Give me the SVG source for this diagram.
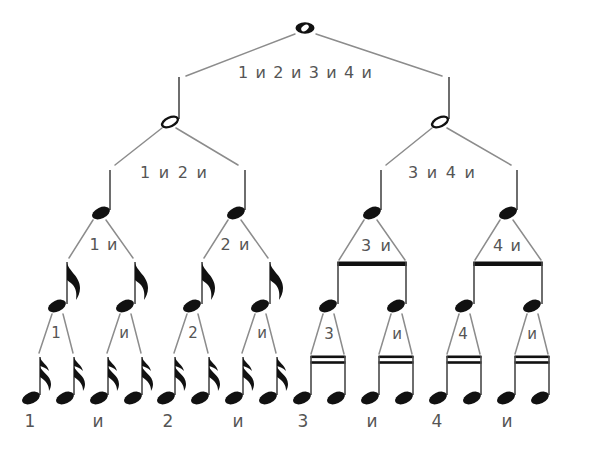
<svg xmlns="http://www.w3.org/2000/svg" xmlns:xlink="http://www.w3.org/1999/xlink" width="600" height="451" viewBox="0 0 600 451">
<style>
.ln{stroke:#8c8c8c;stroke-width:1.5;fill:none;stroke-linecap:round}
.st{stroke:#4a4a4a;stroke-width:1.6;fill:none}
.hd{fill:#111}
.bm{fill:#111}
.t{font-family:"DejaVu Sans","Liberation Sans",sans-serif;fill:#555;text-anchor:middle}
.t1{font-size:16px}
.t2{font-size:15px}
.t3{font-size:17px}
</style>
<defs>
<ellipse id="head" rx="9.5" ry="5.5" transform="rotate(-25)" class="hd"/>
<ellipse id="half" rx="8.5" ry="4.4" transform="rotate(-25)" fill="#fff" stroke="#111" stroke-width="2.4"/>
<path id="flag8" class="hd" d="M0,0 C1,9 13,14 13,26 C13,31 11,35 9,38 C10,31 9,26 5,22 C3,20 1,19 0,18 Z"/>
<g id="flag16" class="hd">
<path d="M0,0 C1,5 8,8 9,14 C6,11 3,10 0,9 Z"/>
<path d="M0,9 C1,15 11,18 11,27 C11,30 10,32 9,34 C9,28 6,24 0,20 Z"/>
</g>
</defs>
<rect width="600" height="451" fill="#fff"/>

<g id="connectors">
<line class="ln" x1="295" y1="34" x2="186" y2="76"/>
<line class="ln" x1="316" y1="34" x2="442" y2="76"/>
<line class="ln" x1="162" y1="128" x2="115" y2="165"/>
<line class="ln" x1="176" y1="128" x2="238" y2="165"/>
<line class="ln" x1="432" y1="128" x2="386" y2="165"/>
<line class="ln" x1="447" y1="128" x2="511" y2="165"/>
<line class="ln" x1="93" y1="220" x2="69" y2="258"/>
<line class="ln" x1="106" y1="220" x2="133" y2="258"/>
<line class="ln" x1="228" y1="220" x2="204" y2="258"/>
<line class="ln" x1="241" y1="220" x2="268" y2="258"/>
<line class="ln" x1="364" y1="220" x2="339" y2="260"/>
<line class="ln" x1="377" y1="220" x2="405" y2="260"/>
<line class="ln" x1="500" y1="220" x2="475" y2="260"/>
<line class="ln" x1="513" y1="220" x2="541" y2="260"/>
<line class="ln" x1="52" y1="314" x2="39" y2="353"/>
<line class="ln" x1="63" y1="314" x2="73" y2="353"/>
<line class="ln" x1="120" y1="314" x2="107" y2="353"/>
<line class="ln" x1="131" y1="314" x2="141" y2="353"/>
<line class="ln" x1="187" y1="314" x2="174" y2="353"/>
<line class="ln" x1="198" y1="314" x2="208" y2="353"/>
<line class="ln" x1="255" y1="314" x2="242" y2="353"/>
<line class="ln" x1="266" y1="314" x2="276" y2="353"/>
<line class="ln" x1="323" y1="314" x2="311" y2="354"/>
<line class="ln" x1="334" y1="314" x2="344" y2="354"/>
<line class="ln" x1="391" y1="314" x2="379" y2="354"/>
<line class="ln" x1="402" y1="314" x2="412" y2="354"/>
<line class="ln" x1="459" y1="314" x2="447" y2="354"/>
<line class="ln" x1="470" y1="314" x2="480" y2="354"/>
<line class="ln" x1="527" y1="314" x2="515" y2="354"/>
<line class="ln" x1="538" y1="314" x2="548" y2="354"/>
</g>

<g id="n-root">
<ellipse cx="305" cy="28" rx="9.5" ry="5.8" class="hd"/>
<ellipse cx="305" cy="28" rx="4.2" ry="2.6" transform="rotate(-35 305 28)" fill="#fff"/>
<text class="t t1" x="305" y="78" textLength="134" lengthAdjust="spacing">1 и 2 и 3 и 4 и</text>
</g>

<g id="n-h1">
<line class="st" x1="179" y1="77" x2="179" y2="119"/>
<use href="#half" x="170" y="122"/>
<text class="t t1" x="173.5" y="178" textLength="67" lengthAdjust="spacing">1 и 2 и</text>
</g>
<g id="n-h2">
<line class="st" x1="449" y1="77" x2="449" y2="119"/>
<use href="#half" x="440" y="122"/>
<text class="t t1" x="441.5" y="178" textLength="67" lengthAdjust="spacing">3 и 4 и</text>
</g>

<g id="n-q1">
<line class="st" x1="110" y1="170" x2="110" y2="210"/>
<use href="#head" x="101" y="213"/>
<text class="t t1" x="103.5" y="250" textLength="28" lengthAdjust="spacing">1 и</text>
</g>
<g id="n-q2">
<line class="st" x1="245" y1="170" x2="245" y2="210"/>
<use href="#head" x="236" y="213"/>
<text class="t t1" x="235" y="250" textLength="29" lengthAdjust="spacing">2 и</text>
</g>
<g id="n-q3">
<line class="st" x1="381" y1="170" x2="381" y2="210"/>
<use href="#head" x="372" y="213"/>
<text class="t t1" x="376" y="251" textLength="30" lengthAdjust="spacing">3 и</text>
</g>
<g id="n-q4">
<line class="st" x1="517" y1="170" x2="517" y2="210"/>
<use href="#head" x="508" y="213"/>
<text class="t t1" x="507" y="251" textLength="28" lengthAdjust="spacing">4 и</text>
</g>

<g id="n-e1">
<line class="st" x1="67" y1="262" x2="67" y2="304"/><use href="#flag8" x="67" y="262"/><use href="#head" x="57" y="306"/>
<text class="t t2" x="56" y="338">1</text>
</g>
<g id="n-e2">
<line class="st" x1="135" y1="262" x2="135" y2="304"/><use href="#flag8" x="135" y="262"/><use href="#head" x="125" y="306"/>
<text class="t t2" x="124" y="338">и</text>
</g>
<g id="n-e3">
<line class="st" x1="202" y1="262" x2="202" y2="304"/><use href="#flag8" x="202" y="262"/><use href="#head" x="192" y="306"/>
<text class="t t2" x="193" y="338">2</text>
</g>
<g id="n-e4">
<line class="st" x1="270" y1="262" x2="270" y2="304"/><use href="#flag8" x="270" y="262"/><use href="#head" x="260" y="306"/>
<text class="t t2" x="262" y="338">и</text>
</g>
<g id="n-e5-6">
<rect class="bm" x="337.2" y="261.5" width="69.6" height="4.5"/>
<line class="st" x1="338" y1="262" x2="338" y2="304"/><use href="#head" x="328" y="306"/>
<line class="st" x1="406" y1="262" x2="406" y2="304"/><use href="#head" x="396" y="306"/>
<text class="t t2" x="329" y="339">3</text>
<text class="t t2" x="397" y="339">и</text>
</g>
<g id="n-e7-8">
<rect class="bm" x="473.2" y="261.5" width="69.6" height="4.5"/>
<line class="st" x1="474" y1="262" x2="474" y2="304"/><use href="#head" x="464" y="306"/>
<line class="st" x1="542" y1="262" x2="542" y2="304"/><use href="#head" x="532" y="306"/>
<text class="t t2" x="463" y="339">4</text>
<text class="t t2" x="532" y="339">и</text>
</g>

<g id="n-s1-8">
<line class="st" x1="40" y1="357" x2="40" y2="395"/><use href="#flag16" x="40" y="357"/><use href="#head" x="31" y="398"/>
<line class="st" x1="74" y1="357" x2="74" y2="395"/><use href="#flag16" x="74" y="357"/><use href="#head" x="65" y="398"/>
<line class="st" x1="108" y1="357" x2="108" y2="395"/><use href="#flag16" x="108" y="357"/><use href="#head" x="99" y="398"/>
<line class="st" x1="142" y1="357" x2="142" y2="395"/><use href="#flag16" x="142" y="357"/><use href="#head" x="133" y="398"/>
<line class="st" x1="175" y1="357" x2="175" y2="395"/><use href="#flag16" x="175" y="357"/><use href="#head" x="166" y="398"/>
<line class="st" x1="209" y1="357" x2="209" y2="395"/><use href="#flag16" x="209" y="357"/><use href="#head" x="200" y="398"/>
<line class="st" x1="243" y1="357" x2="243" y2="395"/><use href="#flag16" x="243" y="357"/><use href="#head" x="234" y="398"/>
<line class="st" x1="277" y1="357" x2="277" y2="395"/><use href="#flag16" x="277" y="357"/><use href="#head" x="268" y="398"/>
</g>
<g id="n-s9-16">
<rect class="bm" x="310.5" y="355.5" width="35" height="2.6"/><rect class="bm" x="310.5" y="361.2" width="35" height="2.6"/>
<rect class="bm" x="378.5" y="355.5" width="35" height="2.6"/><rect class="bm" x="378.5" y="361.2" width="35" height="2.6"/>
<rect class="bm" x="446.5" y="355.5" width="35" height="2.6"/><rect class="bm" x="446.5" y="361.2" width="35" height="2.6"/>
<rect class="bm" x="514.5" y="355.5" width="35" height="2.6"/><rect class="bm" x="514.5" y="361.2" width="35" height="2.6"/>
<line class="st" x1="311" y1="356" x2="311" y2="395"/><use href="#head" x="302" y="398"/>
<line class="st" x1="345" y1="356" x2="345" y2="395"/><use href="#head" x="336" y="398"/>
<line class="st" x1="379" y1="356" x2="379" y2="395"/><use href="#head" x="370" y="398"/>
<line class="st" x1="413" y1="356" x2="413" y2="395"/><use href="#head" x="404" y="398"/>
<line class="st" x1="447" y1="356" x2="447" y2="395"/><use href="#head" x="438" y="398"/>
<line class="st" x1="481" y1="356" x2="481" y2="395"/><use href="#head" x="472" y="398"/>
<line class="st" x1="515" y1="356" x2="515" y2="395"/><use href="#head" x="506" y="398"/>
<line class="st" x1="549" y1="356" x2="549" y2="395"/><use href="#head" x="540" y="398"/>
</g>

<g id="count-labels">
<text class="t t3" x="30" y="427">1</text>
<text class="t t3" x="98" y="427">и</text>
<text class="t t3" x="168" y="427">2</text>
<text class="t t3" x="238" y="427">и</text>
<text class="t t3" x="303" y="427">3</text>
<text class="t t3" x="372" y="427">и</text>
<text class="t t3" x="437" y="427">4</text>
<text class="t t3" x="507" y="427">и</text>
</g>
</svg>
